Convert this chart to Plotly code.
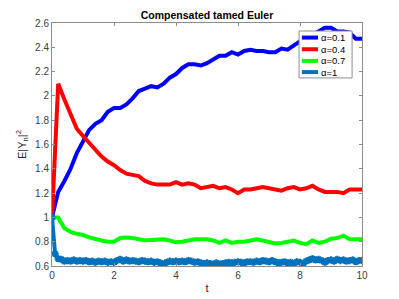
import plotly.graph_objects as go

t_coarse = [round(i * 0.2, 1) for i in range(51)]
t_fine = [round(i * 0.1, 1) for i in range(101)]

alpha_01 = [1.00, 1.21, 1.30, 1.40, 1.53, 1.63, 1.72, 1.77, 1.80, 1.87, 1.90,
            1.90, 1.93, 1.98, 2.04, 2.06, 2.08, 2.07, 2.10, 2.15, 2.18,
            2.23, 2.26, 2.26, 2.25, 2.27, 2.30, 2.33, 2.33, 2.36, 2.34,
            2.37, 2.38, 2.37, 2.37, 2.36, 2.36, 2.39, 2.38, 2.42, 2.45,
            2.47, 2.50, 2.53, 2.56, 2.56, 2.53, 2.53, 2.52, 2.47, 2.47]

alpha_04 = [1.00, 2.10, 1.97, 1.85, 1.73, 1.67, 1.61, 1.56, 1.50, 1.46, 1.43,
            1.39, 1.36, 1.35, 1.34, 1.30, 1.28, 1.27, 1.27, 1.27, 1.29,
            1.27, 1.28, 1.27, 1.24, 1.25, 1.26, 1.24, 1.25, 1.23, 1.20,
            1.23, 1.23, 1.24, 1.25, 1.24, 1.23, 1.22, 1.24, 1.25, 1.23,
            1.24, 1.26, 1.23, 1.21, 1.21, 1.21, 1.20, 1.23, 1.23, 1.23]

alpha_07 = [1.00, 1.00, 0.91, 0.88, 0.865, 0.855, 0.835, 0.82, 0.81, 0.80, 0.80,
            0.83, 0.835, 0.83, 0.82, 0.81, 0.815, 0.815, 0.82, 0.81, 0.795,
            0.80, 0.81, 0.82, 0.82, 0.82, 0.81, 0.79, 0.81, 0.79, 0.80,
            0.80, 0.81, 0.82, 0.81, 0.80, 0.785, 0.79, 0.80, 0.81, 0.79,
            0.78, 0.81, 0.79, 0.80, 0.825, 0.83, 0.85, 0.82, 0.82, 0.82]

alpha_1 = [1.00, 0.70, 0.66, 0.655, 0.64, 0.645, 0.64, 0.65, 0.64, 0.645,
           0.64, 0.645, 0.635, 0.64, 0.63, 0.64, 0.635, 0.64, 0.63, 0.635,
           0.63, 0.645, 0.655, 0.64, 0.65, 0.64, 0.645, 0.64, 0.635, 0.645,
           0.64, 0.635, 0.64, 0.63, 0.635, 0.625, 0.615, 0.63, 0.64, 0.635,
           0.64, 0.635, 0.64, 0.635, 0.645, 0.64, 0.63, 0.635, 0.625, 0.62,
           0.625, 0.62, 0.615, 0.625, 0.615, 0.62, 0.625, 0.63, 0.625, 0.63,
           0.635, 0.63, 0.625, 0.635, 0.635, 0.63, 0.64, 0.635, 0.645, 0.64,
           0.635, 0.645, 0.635, 0.625, 0.63, 0.635, 0.625, 0.63, 0.62, 0.635,
           0.63, 0.615, 0.64, 0.65, 0.66, 0.65, 0.655, 0.645, 0.63, 0.645,
           0.65, 0.64, 0.655, 0.645, 0.65, 0.64, 0.645, 0.65, 0.635, 0.645,
           0.645]

legend_labels = ["α=0.1", "α=0.4", "α=0.7", "α=1"]
series_colors = ["#0000FF", "#FF0000", "#00FF00", "#0072BD"]
x_ticks = [0, 2, 4, 6, 8, 10]
y_ticks = [0.6, 0.8, 1.0, 1.2, 1.4, 1.6, 1.8, 2.0, 2.2, 2.4, 2.6]
y_tick_text = ["0.6", "0.8", "1", "1.2", "1.4", "1.6", "1.8", "2", "2.2", "2.4", "2.6"]
x_range = [0, 10]
y_range = [0.6, 2.6]

fig = go.Figure()
series = [(t_coarse, alpha_01), (t_coarse, alpha_04), (t_coarse, alpha_07), (t_fine, alpha_1)]
for i, (tx, vals) in enumerate(series):
    if i == 3:
        fig.add_trace(go.Scatter(x=tx, y=vals, mode="lines+markers", name=legend_labels[i],
                                 line=dict(color=series_colors[i], width=4),
                                 marker=dict(symbol="asterisk-open", size=6, color=series_colors[i],
                                             line=dict(color=series_colors[i], width=2))))
    else:
        fig.add_trace(go.Scatter(x=tx, y=vals, mode="lines", name=legend_labels[i],
                                 line=dict(color=series_colors[i], width=4)))

# Manual compact legend (paper coordinates)
leg_x0, leg_x1, leg_y0, leg_y1 = 0.797, 0.968, 0.774, 0.967
key_x0, key_x1, text_x = 0.806, 0.858, 0.862
entry_y = [0.940, 0.892, 0.844, 0.798]
fig.add_shape(type="rect", xref="paper", yref="paper", x0=leg_x0, x1=leg_x1, y0=leg_y0, y1=leg_y1,
              line=dict(color="#8c8c8c", width=1), fillcolor="white", layer="above")
for i, lab in enumerate(legend_labels):
    fig.add_shape(type="line", xref="paper", yref="paper", x0=key_x0, x1=key_x1,
                  y0=entry_y[i], y1=entry_y[i], line=dict(color=series_colors[i], width=4),
                  layer="above")
    fig.add_annotation(xref="paper", yref="paper", x=text_x, y=entry_y[i], text=lab,
                       showarrow=False, xanchor="left", yanchor="middle",
                       font=dict(family="Liberation Sans", size=9.5, color="#000000"))
# marker glyph for the α=1 key
km = (key_x0 + key_x1) / 2
fig.add_trace(go.Scatter(x=[x_range[0] + km * (x_range[1] - x_range[0])],
                         y=[y_range[0] + entry_y[3] * (y_range[1] - y_range[0])],
                         mode="markers", showlegend=False, hoverinfo="skip", cliponaxis=False,
                         marker=dict(symbol="asterisk-open", size=7, color=series_colors[3],
                                     line=dict(color=series_colors[3], width=2))))

axis_common = dict(showgrid=False, zeroline=False, showline=True, linecolor="#8c8c8c",
                   linewidth=1, mirror="ticks", ticks="inside", ticklen=3, automargin=False,
                   tickcolor="#8c8c8c", tickfont=dict(family="Liberation Sans", size=10, color="#404040"))

# the page body adds an 8px offset, so the figure is sized to fill the rest of the window
fig.update_layout(
    width=391, height=291,
    margin=dict(l=44, r=37, t=15, b=33),
    paper_bgcolor="white", plot_bgcolor="white",
    showlegend=False,
    title=dict(text="<b>Compensated tamed Euler</b>", x=0.5, xref="paper", xanchor="center",
               y=1 - 7 / 291, yref="container", yanchor="middle",
               font=dict(family="Liberation Sans", size=10.5, color="#000000")),
    xaxis=dict(range=x_range, tickvals=x_ticks, **axis_common,
               title=dict(text="t", font=dict(family="Liberation Sans", size=11, color="#262626"),
                          standoff=4)),
    yaxis=dict(range=y_range, tickvals=y_ticks, ticktext=y_tick_text, **axis_common,
               title=dict(text="E|Y<sub>n</sub>|<sup>2</sup>",
                          font=dict(family="Liberation Sans", size=11, color="#262626"),
                          standoff=6)),
)

fig.write_html("out.html")
